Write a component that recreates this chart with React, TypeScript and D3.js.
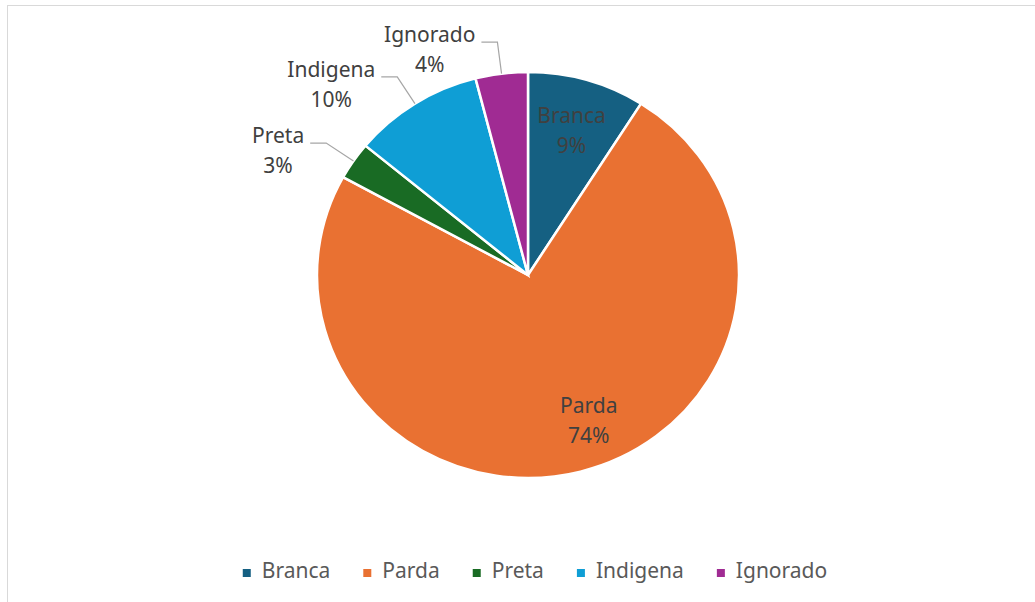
import * as d3 from "d3";
import { useEffect, useRef } from "react";

const categories = ["Branca", "Parda", "Preta", "Indigena", "Ignorado"];
const values = [9, 74, 3, 10, 4];
const colors = ["#156082", "#E97132", "#196B24", "#0F9ED5", "#A02B93"];
// which labels sit outside with a leader line
const outside = [false, false, true, true, true];

export default function App() {
  const ref = useRef<SVGSVGElement | null>(null);

  useEffect(() => {
    const width = 1035;
    const height = 602;
    const font = "'Noto Sans', sans-serif";
    const cx = 528;
    const cy = 275;
    const rx = 211;
    const ry = 203;

    const svg = d3.select(ref.current);
    svg.selectAll("*").remove();
    svg.attr("width", width).attr("height", height);

    svg
      .append("rect")
      .attr("width", width)
      .attr("height", height)
      .attr("fill", "#fff");

    // chart frame (continues past the right and bottom edges)
    svg
      .append("rect")
      .attr("x", 7.5)
      .attr("y", 5.5)
      .attr("width", width + 20)
      .attr("height", height + 20)
      .attr("fill", "none")
      .attr("stroke", "#d9d9d9")
      .attr("stroke-width", 1);

    const data = categories.map((c, i) => ({ name: c, value: values[i], i }));
    const pie = d3
      .pie<(typeof data)[0]>()
      .value((d) => d.value)
      .sort(null);
    const arcs = pie(data);
    const arc = d3.arc<d3.PieArcDatum<(typeof data)[0]>>().innerRadius(0).outerRadius(rx);

    const g = svg
      .append("g")
      .attr("transform", `translate(${cx},${cy}) scale(1,${ry / rx})`);

    g.selectAll("path")
      .data(arcs)
      .join("path")
      .attr("d", arc)
      .attr("fill", (d) => colors[d.data.i])
      .attr("stroke", "#fff")
      .attr("stroke-width", 2.5)
      .attr("vector-effect", "non-scaling-stroke");

    const labels = svg.append("g").attr("font-family", font).attr("font-size", 21).attr("fill", "#404040");

    const pt = (a: number, r: number) => [cx + Math.sin(a) * r, cy - Math.cos(a) * r * (ry / rx)];

    arcs.forEach((d) => {
      const mid = (d.startAngle + d.endAngle) / 2;
      const pct = `${d.data.value}%`;
      if (!outside[d.data.i]) {
        let [x, y] = pt(mid, rx * 0.74);
        if (d.data.name === "Parda") {
          x += 22;
          y -= 3;
        } else {
          y -= 3;
        }
        const t = labels.append("text").attr("text-anchor", "middle");
        t.append("tspan").attr("x", x).attr("y", y - 5).text(d.data.name);
        t.append("tspan").attr("x", x).attr("y", y + 25).text(pct);
      } else {
        const [ex, ey] = pt(mid, rx);
        const [kx, ky] = pt(mid, rx + 33);
        const hx = kx - 16;
        labels
          .append("polyline")
          .attr("points", `${ex},${ey} ${kx},${ky} ${hx},${ky}`)
          .attr("fill", "none")
          .attr("stroke", "#a6a6a6")
          .attr("stroke-width", 1.2);
        const t1 = labels.append("text").attr("y", ky).text(d.data.name);
        const w = (t1.node() as SVGTextElement).getComputedTextLength();
        const center = hx - 6 - w / 2;
        t1.attr("x", center).attr("text-anchor", "middle");
        labels
          .append("text")
          .attr("x", center)
          .attr("y", ky + 30)
          .attr("text-anchor", "middle")
          .text(pct);
      }
    });

    // legend
    const legend = svg.append("g").attr("font-family", font).attr("font-size", 21).attr("fill", "#595959");
    const items = categories.map((c, i) => {
      const gi = legend.append("g");
      gi.append("rect").attr("width", 8).attr("height", 8).attr("y", -9).attr("fill", colors[i]);
      const t = gi.append("text").attr("x", 19).attr("y", 0).text(c);
      const w = (t.node() as SVGTextElement).getComputedTextLength();
      return { gi, w: 19 + w };
    });
    const gap = 33;
    const total = d3.sum(items, (d) => d.w) + gap * (items.length - 1);
    let x = 535 - total / 2;
    items.forEach((it) => {
      it.gi.attr("transform", `translate(${x},578)`);
      x += it.w + gap;
    });
  }, []);

  return <svg ref={ref} style={{ position: "absolute", left: 0, top: 0 }} />;
}
